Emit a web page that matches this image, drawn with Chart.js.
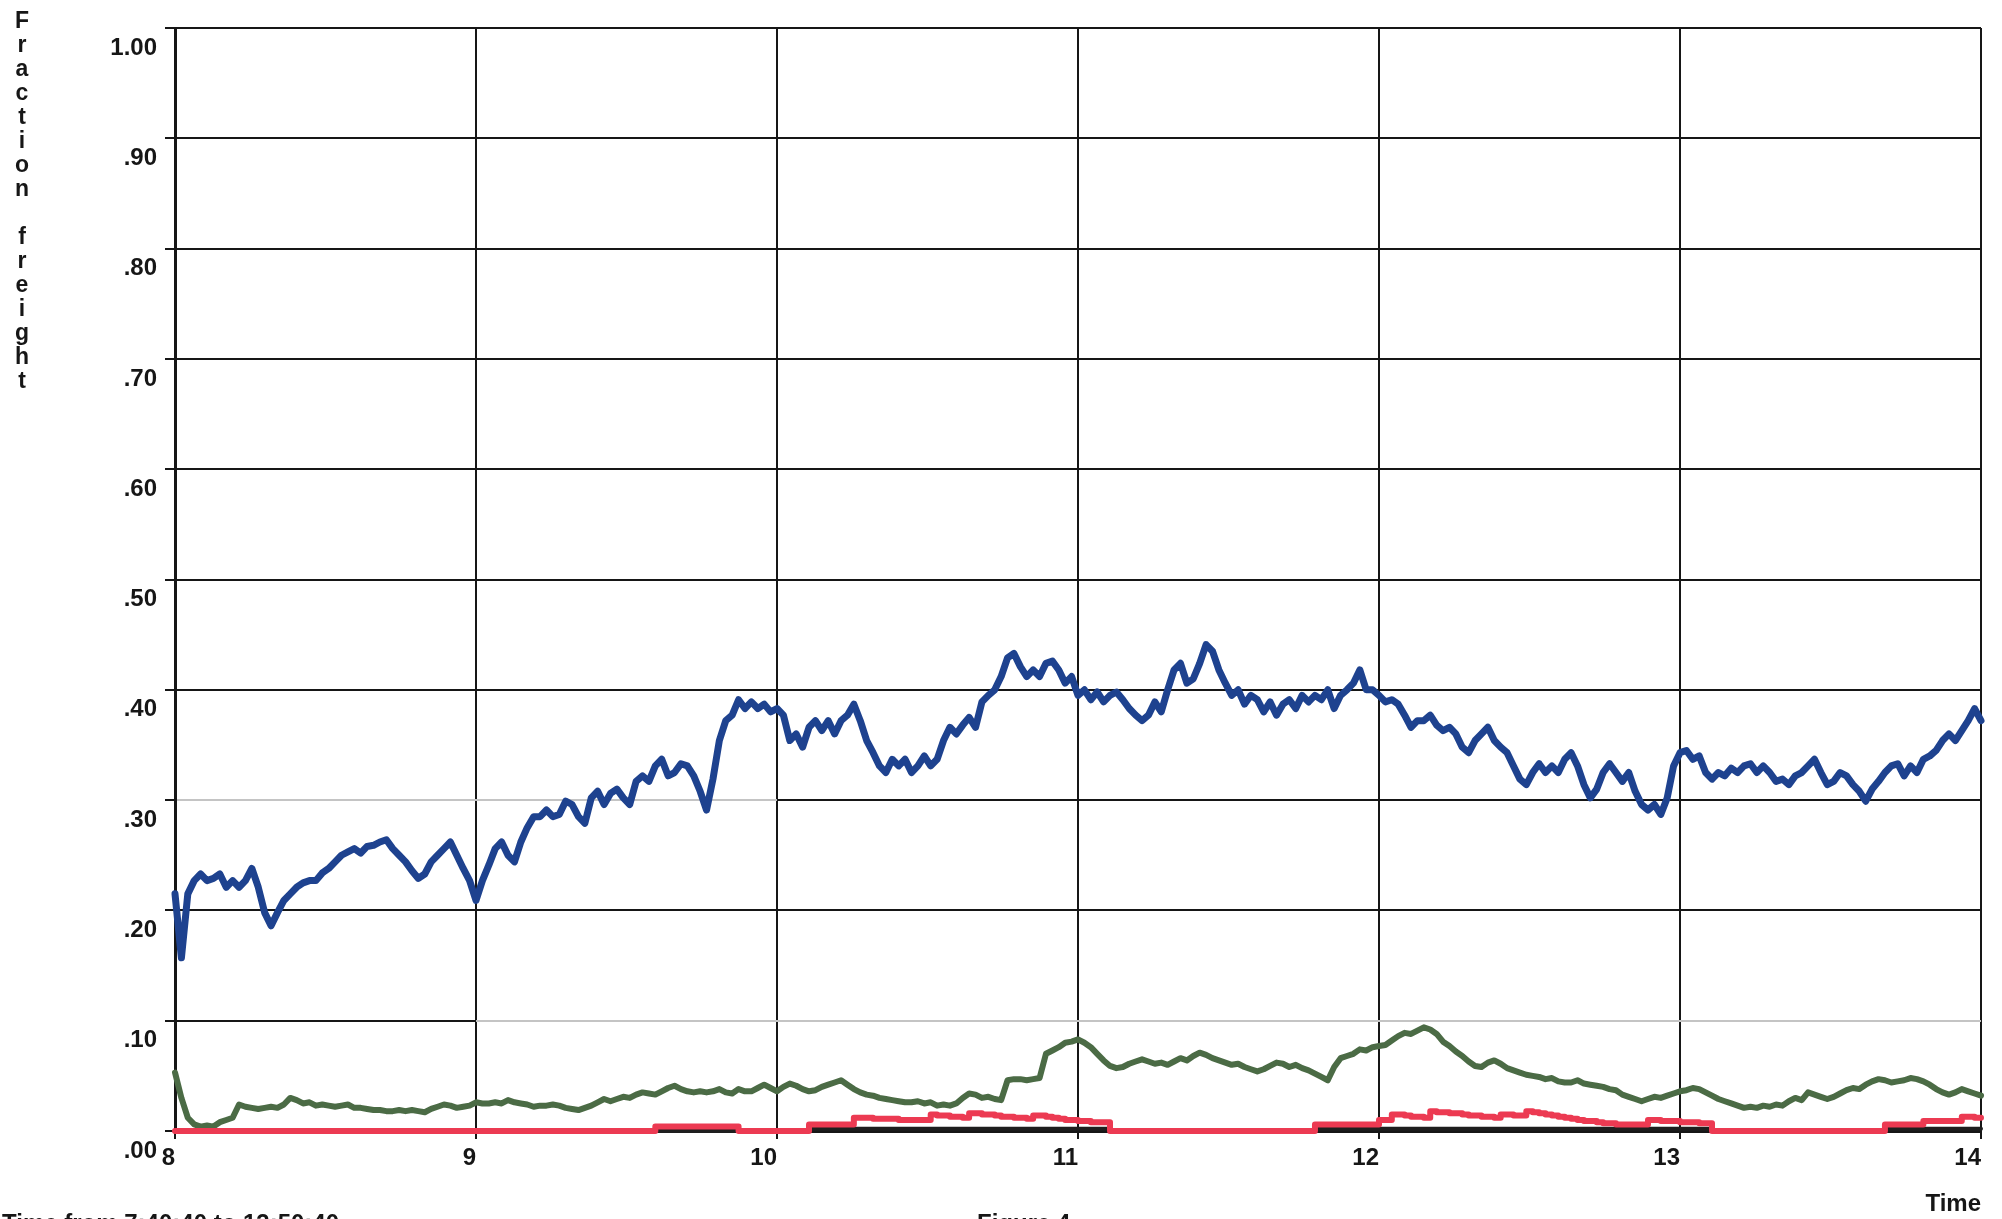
<!DOCTYPE html>
<html>
<head>
<meta charset="utf-8">
<script src="https://cdn.jsdelivr.net/npm/chart.js@4.4.1/dist/chart.umd.min.js"></script>
<style>
  html, body { margin: 0; padding: 0; background: #ffffff; overflow: hidden; }
  #wrap { position: relative; width: 2002px; height: 1219px; }
</style>
</head>
<body>
<div id="wrap"><canvas id="c"></canvas></div>
<script>
// Time span covered by the samples (hours of the day)
const T_START = 8;
const T_END = 14;

const X_TICK_LABELS = ['8', '9', '10', '11', '12', '13', '14'];
const Y_TICK_LABELS = ['.00', '.10', '.20', '.30', '.40', '.50', '.60', '.70', '.80', '.90', '1.00'];
const Y_TITLE = 'Fraction freight';
const X_TITLE = 'Time';
const FOOTNOTE = 'Time from 7:40:40 to 13:50:40';
const FIGURE_LABEL = 'Figure 4';

// Samples evenly spaced from 8:00 to 14:00
const SERIES_BLUE = [
  0.215,0.157,0.215,0.227,0.233,0.227,0.229,0.233,0.221,0.227,
  0.221,0.227,0.238,0.221,0.198,0.186,0.198,0.209,0.215,0.221,
  0.225,0.227,0.227,0.234,0.238,0.244,0.250,0.253,0.256,0.252,
  0.258,0.259,0.262,0.264,0.256,0.250,0.244,0.236,0.229,0.233,
  0.244,0.250,0.256,0.262,0.250,0.238,0.227,0.209,0.227,0.241,
  0.256,0.262,0.250,0.244,0.262,0.275,0.285,0.285,0.291,0.285,
  0.287,0.299,0.296,0.285,0.279,0.302,0.308,0.296,0.306,0.310,
  0.302,0.296,0.317,0.322,0.317,0.331,0.337,0.322,0.325,0.333,
  0.331,0.322,0.308,0.291,0.319,0.354,0.372,0.377,0.391,0.383,
  0.389,0.383,0.387,0.380,0.383,0.377,0.354,0.360,0.348,0.366,
  0.372,0.363,0.372,0.360,0.372,0.377,0.387,0.372,0.354,0.343,
  0.331,0.325,0.337,0.331,0.337,0.325,0.331,0.340,0.331,0.337,
  0.354,0.366,0.360,0.368,0.375,0.366,0.389,0.395,0.400,0.412,
  0.429,0.433,0.421,0.412,0.418,0.412,0.424,0.426,0.418,0.406,
  0.412,0.395,0.400,0.391,0.398,0.389,0.395,0.398,0.391,0.383,
  0.377,0.372,0.377,0.389,0.380,0.400,0.418,0.424,0.406,0.410,
  0.424,0.441,0.435,0.418,0.406,0.395,0.400,0.387,0.395,0.391,
  0.380,0.389,0.377,0.387,0.391,0.383,0.395,0.389,0.395,0.391,
  0.400,0.383,0.395,0.400,0.406,0.418,0.400,0.400,0.395,0.389,
  0.391,0.387,0.377,0.366,0.372,0.372,0.377,0.368,0.363,0.366,
  0.360,0.348,0.343,0.354,0.360,0.366,0.354,0.348,0.343,0.331,
  0.319,0.314,0.325,0.333,0.325,0.331,0.325,0.337,0.343,0.331,
  0.314,0.302,0.310,0.325,0.333,0.325,0.317,0.325,0.308,0.296,
  0.291,0.296,0.287,0.302,0.331,0.343,0.345,0.337,0.340,0.325,
  0.319,0.325,0.322,0.329,0.325,0.331,0.333,0.325,0.331,0.325,
  0.317,0.319,0.314,0.322,0.325,0.331,0.337,0.325,0.314,0.317,
  0.325,0.322,0.314,0.308,0.299,0.310,0.317,0.325,0.331,0.333,
  0.322,0.331,0.325,0.337,0.340,0.345,0.354,0.360,0.354,0.363,
  0.372,0.383,0.372
];

const SERIES_GREEN = [
  0.053,0.030,0.012,0.006,0.004,0.005,0.004,0.008,0.010,0.012,
  0.024,0.022,0.021,0.020,0.021,0.022,0.021,0.024,0.030,0.028,
  0.025,0.026,0.023,0.024,0.023,0.022,0.023,0.024,0.021,0.021,
  0.020,0.019,0.019,0.018,0.018,0.019,0.018,0.019,0.018,0.017,
  0.020,0.022,0.024,0.023,0.021,0.022,0.023,0.026,0.025,0.025,
  0.026,0.025,0.028,0.026,0.025,0.024,0.022,0.023,0.023,0.024,
  0.023,0.021,0.020,0.019,0.021,0.023,0.026,0.029,0.027,0.029,
  0.031,0.030,0.033,0.035,0.034,0.033,0.036,0.039,0.041,0.038,
  0.036,0.035,0.036,0.035,0.036,0.038,0.035,0.034,0.038,0.036,
  0.036,0.039,0.042,0.039,0.036,0.040,0.043,0.041,0.038,0.036,
  0.037,0.040,0.042,0.044,0.046,0.042,0.038,0.035,0.033,0.032,
  0.030,0.029,0.028,0.027,0.026,0.026,0.027,0.025,0.026,0.023,
  0.024,0.023,0.025,0.030,0.034,0.033,0.030,0.031,0.029,0.028,
  0.046,0.047,0.047,0.046,0.047,0.048,0.070,0.073,0.076,0.080,
  0.081,0.083,0.080,0.076,0.070,0.064,0.059,0.057,0.058,0.061,
  0.063,0.065,0.063,0.061,0.062,0.060,0.063,0.066,0.064,0.068,
  0.071,0.069,0.066,0.064,0.062,0.060,0.061,0.058,0.056,0.054,
  0.056,0.059,0.062,0.061,0.058,0.060,0.057,0.055,0.052,0.049,
  0.046,0.058,0.066,0.068,0.070,0.074,0.073,0.076,0.077,0.078,
  0.082,0.086,0.089,0.088,0.091,0.094,0.092,0.088,0.081,0.077,
  0.072,0.068,0.063,0.059,0.058,0.062,0.064,0.061,0.057,0.055,
  0.053,0.051,0.050,0.049,0.047,0.048,0.045,0.044,0.044,0.046,
  0.043,0.042,0.041,0.040,0.038,0.037,0.033,0.031,0.029,0.027,
  0.029,0.031,0.030,0.032,0.034,0.036,0.037,0.039,0.038,0.035,
  0.032,0.029,0.027,0.025,0.023,0.021,0.022,0.021,0.023,0.022,
  0.024,0.023,0.027,0.030,0.028,0.035,0.033,0.031,0.029,0.031,
  0.034,0.037,0.039,0.038,0.042,0.045,0.047,0.046,0.044,0.045,
  0.046,0.048,0.047,0.045,0.042,0.038,0.035,0.033,0.035,0.038,
  0.036,0.034,0.032
];

const SERIES_RED = [
  0,0,0,0,0,0,0,0,0,0,0,0,0,0,0,
  0,0,0,0,0,0,0,0,0,0,0,0,0,0,0,
  0,0,0,0,0,0,0,0,0,0,0,0,0,0,0,
  0,0,0,0,0,0,0,0,0,0,0,0,0,0,0,
  0,0,0,0,0,0,0,0,0,0,0,0,0,0,0,
  0.004,0.004,0.004,0.004,0.004,0.004,0.004,0.004,0.004,0.004,0.004,0.004,0.004,
  0,0,0,0,0,0,0,0,0,0,0,
  0.006,0.006,0.006,0.006,0.006,0.006,0.006,
  0.012,0.012,0.012,0.011,0.011,0.011,0.011,0.010,0.010,0.010,0.010,0.010,
  0.015,0.014,0.014,0.013,0.013,0.012,
  0.016,0.016,0.015,0.015,0.014,0.013,0.013,0.012,0.012,0.011,
  0.014,0.014,0.013,0.012,0.011,0.010,0.010,0.009,0.009,0.008,0.008,0.008,
  0,0,0,0,0,0,0,0,0,0,0,0,0,0,0,0,
  0,0,0,0,0,0,0,0,0,0,0,0,0,0,0,0,
  0.006,0.006,0.006,0.006,0.006,0.006,0.006,0.006,0.006,0.006,
  0.010,0.010,
  0.015,0.015,0.014,0.013,0.013,0.012,
  0.018,0.017,0.017,0.016,0.016,0.015,0.014,0.014,0.013,0.013,0.012,
  0.015,0.015,0.014,0.014,
  0.018,0.017,0.016,0.015,0.014,0.013,0.012,0.011,0.010,0.009,
  0.009,0.008,0.007,0.007,0.006,0.006,0.006,0.006,0.006,
  0.010,0.010,0.009,0.009,0.009,0.008,0.008,0.008,0.007,0.007,
  0,0,0,0,0,0,0,0,0,0,0,0,0,0,
  0,0,0,0,0,0,0,0,0,0,0,0,0,
  0.006,0.006,0.006,0.006,0.006,0.006,
  0.009,0.009,0.009,0.009,0.009,0.009,
  0.013,0.013,0.012,0.012
];

const SERIES_BLACK = [
  0,0,0,0,0,0,0,0,0,0,0,0,0,0,0,0,0,0,0,0,
  0,0,0,0,0,0,0,0,0,0,0,0,0,0,0,0,0,0,0,0,
  0,0,0,0,0,0,0,0,0,0,0,0,0,0,0,0,0,0,0,0,
  0,0,0,0,0,0,0,0,0,0,0,0,0,0,0,0,0,0,0,0,
  0,0,0,0,0,0,0,0,0,0,0,0,0,0,0,0,0,0,0,
  0.002,0.002,0.002,0.002,0.002,0.002,0.002,0.002,0.002,0.002,
  0.002,0.002,0.002,0.002,0.002,0.002,0.002,0.002,0.002,0.002,
  0.002,0.002,0.002,0.002,0.002,0.002,0.002,0.002,0.002,0.002,
  0.002,0.002,0.002,0.002,0.002,0.002,0.002,0.002,0.002,0.002,
  0.002,0.002,0.002,0.002,0.002,0.002,0.002,
  0,0,0,0,0,0,0,0,0,0,0,0,0,0,0,0,
  0,0,0,0,0,0,0,0,0,0,0,0,0,0,0,0,
  0.002,0.002,0.002,0.002,0.002,0.002,0.002,0.002,0.002,0.002,
  0.002,0.002,0.002,0.002,0.002,0.002,0.002,0.002,0.002,0.002,
  0.002,0.002,0.002,0.002,0.002,0.002,0.002,0.002,0.002,0.002,
  0.002,0.002,0.002,0.002,0.002,0.002,0.002,0.002,0.002,0.002,
  0.002,0.002,0.002,0.002,0.002,0.002,0.002,0.002,0.002,0.002,
  0.002,0.002,0.002,0.002,0.002,0.002,0.002,0.002,0.002,0.002,
  0.002,0.002,
  0,0,0,0,0,0,0,0,0,0,0,0,0,0,
  0,0,0,0,0,0,0,0,0,0,0,0,0,
  0.002,0.002,0.002,0.002,0.002,0.002,0.002,0.002,
  0.002,0.002,0.002,0.002,0.002,0.002,0.002,0.002
];

// Horizontal grid lines drawn faint, and the stretches of them that are solid black
const GRID_FAINT = [0.1, 0.3];
const GRID_DARK_SEGMENTS = [[0.1, 8, 9], [0.3, 10, 14]];

const FONT = "'Liberation Sans', Arial, Helvetica, sans-serif";
const INK = '#161616';

// Place each series' samples evenly across the time span
function toPoints(values) {
  const n = values.length;
  return values.map((v, i) => ({ x: T_START + i * (T_END - T_START) / (n - 1), y: v }));
}

const gridAccents = {
  id: 'gridAccents',
  beforeDatasetsDraw(chart) {
    const { ctx, scales: { x, y } } = chart;
    ctx.save();
    ctx.strokeStyle = INK;
    ctx.lineWidth = 2;
    GRID_DARK_SEGMENTS.forEach(([v, a, b]) => {
      const py = Math.round(y.getPixelForValue(v));
      ctx.beginPath();
      ctx.moveTo(x.getPixelForValue(a), py);
      ctx.lineTo(x.getPixelForValue(b), py);
      ctx.stroke();
    });
    ctx.restore();
  }
};

// Upright, letter-per-line axis title plus the footer captions
const sideText = {
  id: 'sideText',
  afterDraw(chart) {
    const ctx = chart.ctx;
    ctx.save();
    ctx.fillStyle = INK;
    ctx.font = `bold 23px ${FONT}`;
    ctx.textAlign = 'center';
    ctx.textBaseline = 'middle';
    [...Y_TITLE].forEach((ch, i) => {
      if (ch !== ' ') ctx.fillText(ch, 22, 22 + i * 24);
    });
    ctx.font = `bold 24px ${FONT}`;
    ctx.textAlign = 'left';
    ctx.textBaseline = 'top';
    ctx.fillText(FOOTNOTE, 2, 1212);
    ctx.fillText(FIGURE_LABEL, 977, 1212);
    ctx.restore();
  }
};

const lineStyle = { pointRadius: 0, tension: 0, borderJoinStyle: 'round', borderCapStyle: 'round', clip: 10, fill: false };

new Chart(document.getElementById('c'), {
  type: 'line',
  data: {
    datasets: [
      { ...lineStyle, label: 'red', data: toPoints(SERIES_RED), borderColor: '#ec3a52', borderWidth: 6, stepped: true, order: 0 },
      { ...lineStyle, label: 'blue', data: toPoints(SERIES_BLUE), borderColor: '#1e428f', borderWidth: 7, order: 1 },
      { ...lineStyle, label: 'green', data: toPoints(SERIES_GREEN), borderColor: '#4b6b45', borderWidth: 6, order: 2 },
      { ...lineStyle, label: 'black', data: toPoints(SERIES_BLACK), borderColor: '#1e1e1e', borderWidth: 4, stepped: true, order: 3 }
    ]
  },
  options: {
    responsive: true,
    maintainAspectRatio: false,
    devicePixelRatio: 1,
    animation: false,
    events: [],
    layout: { padding: { left: 0, right: 21, top: 28, bottom: 0 } },
    plugins: { legend: { display: false }, tooltip: { enabled: false } },
    scales: {
      x: {
        type: 'linear',
        position: 'bottom',
        min: T_START,
        max: T_END,
        afterFit(s) { s.height = 88; },
        ticks: {
          stepSize: 1,
          autoSkip: false,
          maxRotation: 0,
          align: 'end',
          padding: 5,
          color: INK,
          font: { family: FONT, size: 24, weight: 'bold' },
          callback: (v, i) => X_TICK_LABELS[i]
        },
        grid: { color: INK, lineWidth: 2, tickLength: 8, tickColor: INK, tickWidth: 2 },
        border: { color: INK, width: 3 },
        title: {
          display: true,
          text: X_TITLE,
          align: 'end',
          color: INK,
          font: { family: FONT, size: 24, weight: 'bold' },
          padding: { top: 0, bottom: 0 }
        }
      },
      y: {
        min: 0,
        max: 1,
        afterFit(s) { s.width = 175; },
        ticks: {
          stepSize: 0.1,
          padding: 8,
          labelOffset: 20,
          color: INK,
          font: { family: FONT, size: 24, weight: 'bold' },
          callback: (v, i) => Y_TICK_LABELS[i]
        },
        grid: {
          color: (c) => (c.tick && GRID_FAINT.some(f => Math.abs(c.tick.value - f) < 1e-6)) ? '#c4c4c4' : INK,
          lineWidth: 2,
          tickLength: 10,
          tickColor: INK,
          tickWidth: 2
        },
        border: { color: INK, width: 3 }
      }
    }
  },
  plugins: [gridAccents, sideText]
});
</script>
</body>
</html>
